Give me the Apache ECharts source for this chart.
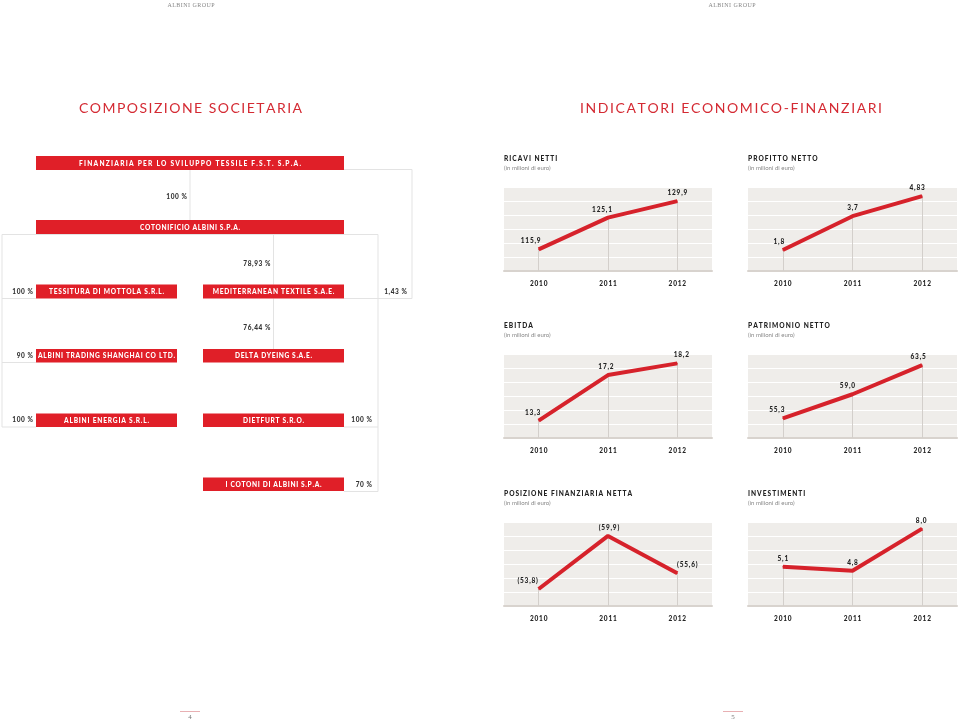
<!DOCTYPE html>
<html>
<head>
<meta charset="utf-8">
<script src="https://cdn.jsdelivr.net/npm/echarts@6/dist/echarts.min.js"></script>
<style>
html,body{margin:0;padding:0;background:#fff;}
#c{width:959px;height:722px;}
</style>
</head>
<body>
<div id="c"></div>
<script>
// ---------------- DATA ----------------
const years = ['2010', '2011', '2012'];
const ricaviNetti = [115.9, 125.1, 129.9];
const profittoNetto = [1.8, 3.7, 4.83];
const ebitda = [13.3, 17.2, 18.2];
const patrimonioNetto = [55.3, 59.0, 63.5];
const posizioneFinanziariaNetta = [-53.8, -59.9, -55.6];
const investimenti = [5.1, 4.8, 8.0];

const chartTitles = ['RICAVI NETTI', 'PROFITTO NETTO', 'EBITDA', 'PATRIMONIO NETTO', 'POSIZIONE FINANZIARIA NETTA', 'INVESTIMENTI'];
const chartSubtitle = '(in milioni di euro)';

const orgCompanies = [
  'FINANZIARIA PER LO SVILUPPO TESSILE F.S.T. S.P.A.',
  'COTONIFICIO ALBINI S.P.A.',
  'TESSITURA DI MOTTOLA S.R.L.',
  'MEDITERRANEAN TEXTILE S.A.E.',
  'ALBINI TRADING SHANGHAI CO LTD.',
  'DELTA DYEING S.A.E.',
  'ALBINI ENERGIA S.R.L.',
  'DIETFURT S.R.O.',
  'I COTONI DI ALBINI S.P.A.'
];
const orgShares = ['100 %', '78,93 %', '100 %', '1,43 %', '76,44 %', '90 %', '100 %', '100 %', '70 %'];

const pageTitles = ['COMPOSIZIONE SOCIETARIA', 'INDICATORI ECONOMICO-FINANZIARI'];
const headerText = 'ALBINI GROUP';
const pageNumbers = ['4', '5'];

// ---------------- LAYOUT / STYLE ----------------
const RED = '#e01f28';
const LINE_RED = '#d6222b';
const GRAYLINE = '#e3e3e3';
const FONT = 'Lato, "Open Sans", sans-serif';
const HEAVY = '900';
const sp = (s, ch) => s.split('').join(ch);
const fmt = v => {
  let s = Math.abs(v).toString();
  if (s.indexOf('.') < 0) s += '.0';
  s = s.replace('.', ',');
  return v < 0 ? '(' + s + ')' : s;
};

const chartLayout = [
  {values: ricaviNetti, min: 109.6, max: 134.0, left: 504, top: 187, width: 208, dx: [-8, -6, 0]},
  {values: profittoNetto, min: 0.62, max: 5.34, left: 748, top: 187, width: 209, dx: [-4, 0, -5]},
  {values: ebitda, min: 11.82, max: 19.0, left: 504, top: 354, width: 208, dx: [-6, -2, 4]},
  {values: patrimonioNetto, min: 52.26, max: 65.2, left: 748, top: 354, width: 209, dx: [-6, -5, -4]},
  {values: posizioneFinanziariaNetta, min: -61.5, max: -51.85, inverse: true, left: 504, top: 522, width: 208, dx: [-11, 1, 10]},
  {values: investimenti, min: 2.13, max: 8.5, left: 748, top: 522, width: 209, dx: [0, 0, -1]}
];
const CH = 84;

const grids = [], xAxes = [], yAxes = [], series = [];
chartLayout.forEach((c, i) => {
  grids.push({left: c.left, top: c.top, width: c.width, height: CH, show: true,
    backgroundColor: '#efedea', borderWidth: 0, containLabel: false});
  xAxes.push({type: 'category', gridIndex: i, data: years, boundaryGap: true,
    axisLine: {lineStyle: {color: '#d8d3ce', width: 2}},
    axisTick: {show: false},
    axisLabel: {color: '#222', fontSize: 6.5, fontWeight: HEAVY, fontFamily: FONT, margin: 9,
      formatter: v => sp(v, '\u2009')}});
  yAxes.push({type: 'value', gridIndex: i, min: c.min, max: c.max, inverse: !!c.inverse, show: false});
  yAxes.push({type: 'value', gridIndex: i, min: 0, max: 6, interval: 1, position: 'right',
    axisLine: {show: false}, axisTick: {show: false}, axisLabel: {show: false},
    splitLine: {show: true, lineStyle: {color: '#ffffff', width: 1}}});
  const base = c.inverse ? c.max : c.min;
  series.push({
    type: 'line', xAxisIndex: i, yAxisIndex: 2 * i, data: c.values,
    symbol: 'circle', symbolSize: 1, showSymbol: true,
    itemStyle: {color: LINE_RED},
    lineStyle: {color: LINE_RED, width: 4, cap: 'butt'},
    z: 5,
    label: {show: true, position: 'top', distance: 4, color: '#222', fontSize: 6.5,
      fontWeight: HEAVY, fontFamily: FONT,
      formatter: p => sp(fmt(p.value), '\u2009')},
    labelLayout: p => ({dx: c.dx[p.dataIndex]}),
    markLine: {silent: true, symbol: 'none', animation: false,
      lineStyle: {color: '#d3cfcb', width: 1, type: 'solid'}, label: {show: false},
      data: c.values.map((v, k) => [{coord: [k, v]}, {coord: [k, base]}])},
    animation: false
  });
});

// ---------------- GRAPHICS (org chart + texts) ----------------
const g = [];
const mctx = document.createElement('canvas').getContext('2d');
const text = (x, y, t, o) => g.push(Object.assign({type: 'text', x: x, y: y, silent: true,
  style: Object.assign({text: t, fill: '#333', font: 'bold 7px ' + FONT, textAlign: 'center', textVerticalAlign: 'middle'}, o || {})}));
// letter-spaced text: each glyph placed individually
const stext = (x, y, t, font, spacing, align, fill) => {
  mctx.font = font;
  const ws = t.split('').map(ch => mctx.measureText(ch).width);
  const total = ws.reduce((a, b) => a + b, 0) + spacing * (ws.length - 1);
  let cx = align === 'center' ? x - total / 2 : (align === 'right' ? x - total : x);
  const children = [];
  t.split('').forEach((ch, k) => {
    if (ch !== ' ') children.push({type: 'text', x: cx, y: 0, silent: true,
      style: {text: ch, font: font, fill: fill, textAlign: 'left', textVerticalAlign: 'middle'}});
    cx += ws[k] + spacing;
  });
  g.push({type: 'group', x: 0, y: y, silent: true, children: children});
};
// letter-spaced text fitted to a target width (shrinks the font if needed)
const ftext = (x, y, t, weight, size, target, fill) => {
  let s = size, spacing;
  for (let it = 0; it < 20; it++) {
    mctx.font = weight + ' ' + s + 'px ' + FONT;
    const w = t.split('').reduce((a, ch) => a + mctx.measureText(ch).width, 0);
    spacing = (target - w) / (t.length - 1);
    if (spacing >= 0.4) break;
    s -= 0.25;
  }
  stext(x, y, t, weight + ' ' + s + 'px ' + FONT, spacing, 'center', fill);
};
const poly = pts => g.push({type: 'polyline', silent: true, shape: {points: pts},
  style: {stroke: GRAYLINE, lineWidth: 1, fill: null}});

// header
stext(191, 5, headerText, '6px "Liberation Serif", serif', 0.45, 'center', '#888');
stext(732, 5, headerText, '6px "Liberation Serif", serif', 0.45, 'center', '#888');
// page titles
ftext(190.5, 108, pageTitles[0], 'normal', 14, 223, '#d42a33');
ftext(731, 108, pageTitles[1], 'normal', 14, 302, '#d42a33');

// connector lines
poly([[190, 170], [190, 220]]);
poly([[344, 169.5], [412, 169.5], [412, 298.5], [344, 298.5]]);
poly([[2, 427], [2, 234.5], [378, 234.5], [378, 491.5], [344, 491.5]]);
poly([[2, 298.5], [36, 298.5]]);
poly([[2, 362.5], [36, 362.5]]);
poly([[344, 427], [378, 427]]);
poly([[2, 427], [36, 427]]);
poly([[273.5, 234.5], [273.5, 284.5]]);
poly([[273.5, 298.5], [273.5, 349]]);

// boxes
const boxes = [
  [36, 156, 308, 14], [36, 220, 308, 14],
  [36, 284.5, 141, 14], [203, 284.5, 141, 14],
  [36, 349, 141, 13.5], [203, 349, 141, 13.5],
  [36, 413.5, 141, 13.5], [203, 413.5, 141, 13.5],
  [203, 477.5, 141, 13.5]
];
const boxTextWidth = [222, 100, 115, 121.5, 137, 77, 85, 61, 96];
orgCompanies.forEach((name, i) => {
  const b = boxes[i];
  g.push({type: 'rect', silent: true, shape: {x: b[0], y: b[1], width: b[2], height: b[3]}, style: {fill: RED}});
  ftext(b[0] + b[2] / 2, b[1] + b[3] / 2 + 0.5, name, HEAVY, 6.6, boxTextWidth[i], '#fff');
});
// share labels
const sharePos = [[187, 197], [270.5, 263.5], [33, 291.5], [407, 291.5], [270.5, 327.5], [33, 356], [33, 420], [372, 420], [372, 485]];
orgShares.forEach((s, i) => {
  stext(sharePos[i][0], sharePos[i][1], s, HEAVY + ' 6.5px ' + FONT, 0.6, 'right', '#333');
});

// chart titles
chartLayout.forEach((c, i) => {
  stext(c.left, c.top - 28, chartTitles[i], HEAVY + ' 6.6px ' + FONT, 1.0, 'left', '#222');
  text(c.left, c.top - 19, chartSubtitle, {textAlign: 'left', fill: '#888', font: '6px ' + FONT});
});

// page numbers
g.push({type: 'line', silent: true, shape: {x1: 180, y1: 711.5, x2: 200, y2: 711.5}, style: {stroke: '#e8b0b3', lineWidth: 1}});
g.push({type: 'line', silent: true, shape: {x1: 723, y1: 711.5, x2: 743, y2: 711.5}, style: {stroke: '#e8b0b3', lineWidth: 1}});
text(190, 717.5, pageNumbers[0], {fill: '#777', font: '7px "Liberation Serif", serif'});
text(733, 717.5, pageNumbers[1], {fill: '#777', font: '7px "Liberation Serif", serif'});

const chart = echarts.init(document.getElementById('c'), null, {renderer: 'canvas'});
chart.setOption({
  backgroundColor: '#ffffff',
  animation: false,
  grid: grids,
  xAxis: xAxes,
  yAxis: yAxes,
  series: series,
  graphic: {elements: g}
});
</script>
</body>
</html>
